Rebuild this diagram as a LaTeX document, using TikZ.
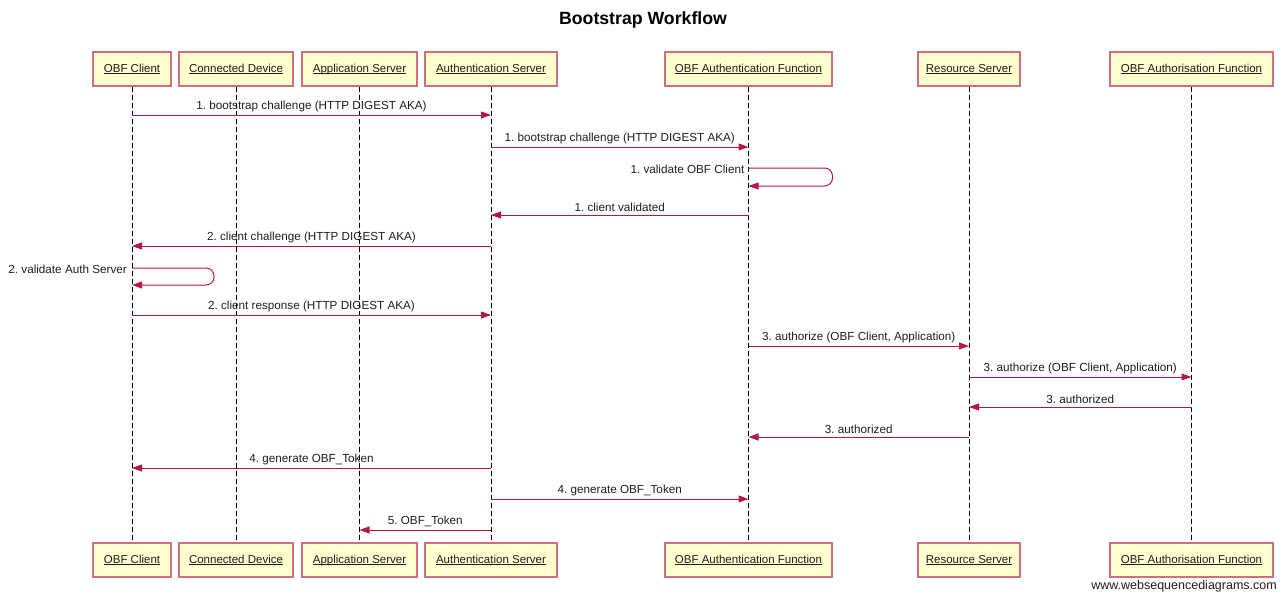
\documentclass[tikz,border=0pt]{standalone}
\usepackage{fontspec}
\setmainfont{Liberation Sans}
\usetikzlibrary{arrows.meta}
\definecolor{msgred}{RGB}{182,22,72}
\definecolor{boxline}{RGB}{208,112,127}
\definecolor{boxfill}{RGB}{254,254,206}
\definecolor{txt}{RGB}{30,30,30}
% underline at a fixed depth, whatever the descenders
\newcommand{\actorname}[1]{\underline{\raisebox{0pt}[\height][0pt]{#1}}}
\frenchspacing
\begin{document}
\begin{tikzpicture}[x=1pt,y=-1pt,
  actor/.style={draw=boxline,line width=1.4pt,fill=boxfill,minimum height=34pt,
    inner sep=0pt,text=txt,font=\fontsize{11.5}{13}\selectfont},
  life/.style={draw=black,line width=0.9pt,dash pattern=on 5pt off 3pt},
  msg/.style={draw=msgred,line width=1pt,-{Triangle[length=10pt,width=7pt]}},
  loopmsg/.style={msg,rounded corners=8pt},
  lbl/.style={font=\fontsize{11.7}{13}\selectfont,text=txt,inner sep=0pt,above=3pt},
  sidelbl/.style={font=\fontsize{11.7}{13}\selectfont,text=txt,inner sep=0pt,anchor=base east}]
\useasboundingbox (0,0) rectangle (1288,595);
\node[font=\bfseries\fontsize{17.7}{20}\selectfont] (title) at (643,20) {Bootstrap Workflow};
% participants, top and bottom
\foreach \nm/\cx/\w/\txt in {C/132/78/OBF Client, D/236/114/Connected Device,
    A/359.5/115/Application Server, S/491/132/Authentication Server,
    F/748.5/167/OBF Authentication Function, R/969/102/Resource Server,
    Z/1191.5/163/OBF Authorisation Function}{
  \node[actor,minimum width=\w pt] (t\nm) at (\cx,69) {\actorname{\txt}};
  \node[actor,minimum width=\w pt] (b\nm) at (\cx,560) {\actorname{\txt}};
}
% lifelines
\foreach \nm in {C,D,A,S,F,R,Z}{
  \draw[life] (t\nm.south) -- (b\nm.north);
}
% messages
\draw[msg] (tC |- 0,115) -- node[lbl]{1. bootstrap challenge (HTTP DIGEST AKA)} (tS |- 0,115);
\draw[msg] (tS |- 0,147) -- node[lbl]{1. bootstrap challenge (HTTP DIGEST AKA)} (tF |- 0,147);
\draw[loopmsg] (tF |- 0,168) -| ([xshift=84pt]tF |- 0,186) -- (tF |- 0,186);
\node[sidelbl] (v1) at ([xshift=-4pt]tF |- 0,173.5) {1. validate OBF Client};
\draw[msg] (tF |- 0,215) -- node[lbl]{1. client validated} (tS |- 0,215);
\draw[msg] (tS |- 0,246) -- node[lbl]{2. client challenge (HTTP DIGEST AKA)} (tC |- 0,246);
\draw[loopmsg] (tC |- 0,268) -| ([xshift=82pt]tC |- 0,285) -- (tC |- 0,285);
\node[sidelbl] (v2) at ([xshift=-5pt]tC |- 0,273.5) {2. validate Auth Server};
\draw[msg] (tC |- 0,315) -- node[lbl]{2. client response (HTTP DIGEST AKA)} (tS |- 0,315);
\draw[msg] (tF |- 0,346) -- node[lbl]{3. authorize (OBF Client, Application)} (tR |- 0,346);
\draw[msg] (tR |- 0,377) -- node[lbl]{3. authorize (OBF Client, Application)} (tZ |- 0,377);
\draw[msg] (tZ |- 0,407) -- node[lbl]{3. authorized} (tR |- 0,407);
\draw[msg] (tR |- 0,437) -- node[lbl]{3. authorized} (tF |- 0,437);
\draw[msg] (tS |- 0,468) -- node[lbl]{4. generate OBF\_Token} (tC |- 0,468);
\draw[msg] (tS |- 0,499) -- node[lbl]{4. generate OBF\_Token} (tF |- 0,499);
\draw[msg] (tS |- 0,530) -- node[lbl]{5. OBF\_Token} (tA |- 0,530);
\node[anchor=east,inner sep=0pt,font=\fontsize{12.5}{14}\selectfont,text=txt] (wm) at (1277,586) {www.websequencediagrams.com};
\end{tikzpicture}
\end{document}
